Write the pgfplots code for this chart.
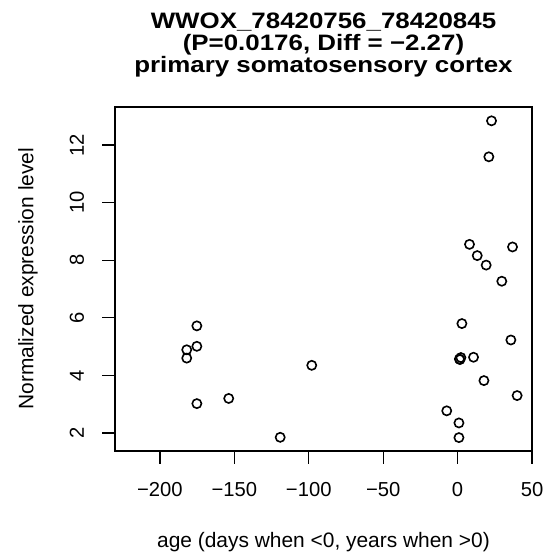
\documentclass[border=0pt]{standalone}
\usepackage{fontspec}
\setmainfont{Liberation Sans}
\newfontfamily\titlefont[FakeStretch=1.16]{Liberation Sans}
\usepackage{pgfplots}
\pgfplotsset{compat=1.18}
\begin{document}
\begin{tikzpicture}
\useasboundingbox (0,0) rectangle (547bp,552bp);
\begin{axis}[
    at={(115bp,101bp)}, anchor=south west,
    scale only axis, width=417bp, height=344bp,
    xmin=-230.2, xmax=50, ymin=1.375, ymax=13.32,
    axis line style={line width=1.3bp},
    tick style={line width=1.3bp, black},
    tick align=outside, major tick length=12.5bp,
    xtick pos=left, ytick pos=left,
    xtick={-200,-150,-100,-50,0,50},
    xticklabels={−200,−150,−100,−50,0,50},
    ytick={2,4,6,8,10,12},
    yticklabels={2,4,6,8,10,12},
    xticklabel style={font=\fontsize{20.3}{20.3}\selectfont, anchor=base, yshift=-33.2bp},
    yticklabel style={font=\fontsize{20.3}{20.3}\selectfont, rotate=90, anchor=base, yshift=18.5bp},
]
\addplot[only marks, mark=o, mark size=4.6bp, mark options={line width=1.6bp, black}] coordinates {
    (-175.2,5.72) (-182.0,4.89) (-175.2,5.01) (-182.0,4.60) (-175.2,3.02)
    (-153.8,3.20) (-119.2,1.85) (-98.0,4.35)
    (22.8,12.84) (21.0,11.59) (8.0,8.55) (36.9,8.46) (13.2,8.16) (19.2,7.83)
    (29.7,7.27) (2.9,5.80) (35.8,5.23) (1.2,4.57) (2.2,4.62) (1.6,4.55)
    (10.7,4.63) (17.7,3.82) (40.0,3.30) (-7.3,2.77) (0.9,2.35) (0.9,1.84)
};
\end{axis}
\node[anchor=base, inner sep=0pt, font=\titlefont\bfseries\fontsize{22.4}{22.4}\selectfont] at (323.5bp,523bp) {WWOX\_78420756\_78420845};
\node[anchor=base, inner sep=0pt, font=\titlefont\bfseries\fontsize{22.4}{22.4}\selectfont] at (323.5bp,501bp) {(P=0.0176, Diff = −2.27)};
\node[anchor=base, inner sep=0pt, font=\titlefont\bfseries\fontsize{22.4}{22.4}\selectfont] at (323.5bp,479bp) {primary somatosensory cortex};
\node[anchor=base, rotate=90, font=\fontsize{21}{21}\selectfont] at (33.3bp,273.3bp) {Normalized expression level};
\node[anchor=base, font=\fontsize{21}{21}\selectfont] at (323.5bp,4.7bp) {age (days when <0, years when >0)};
\end{tikzpicture}
\end{document}
